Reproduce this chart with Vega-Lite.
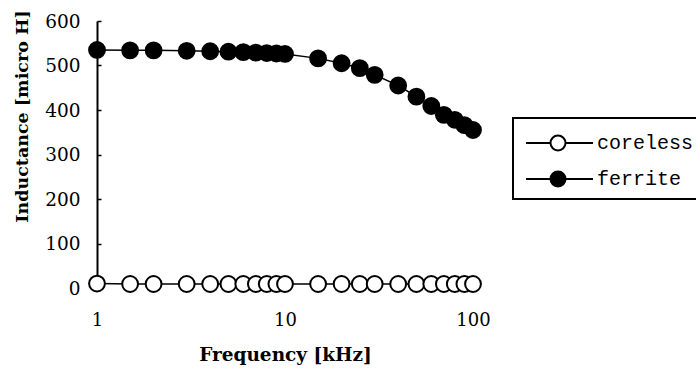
{
  "$schema": "https://vega.github.io/schema/vega-lite/v6.json",
  "autosize": {"type": "none"},
  "padding": {"left": 97, "top": 21, "right": 223, "bottom": 84},
  "width": 376,
  "height": 267,
  "background": "white",
  "data": {
    "values": [
      {"f": 1, "L": 10, "series": "coreless"},
      {"f": 1.5, "L": 9, "series": "coreless"},
      {"f": 2, "L": 9, "series": "coreless"},
      {"f": 3, "L": 9, "series": "coreless"},
      {"f": 4, "L": 9, "series": "coreless"},
      {"f": 5, "L": 9, "series": "coreless"},
      {"f": 6, "L": 9, "series": "coreless"},
      {"f": 7, "L": 9, "series": "coreless"},
      {"f": 8, "L": 9, "series": "coreless"},
      {"f": 9, "L": 9, "series": "coreless"},
      {"f": 10, "L": 9, "series": "coreless"},
      {"f": 15, "L": 9, "series": "coreless"},
      {"f": 20, "L": 9, "series": "coreless"},
      {"f": 25, "L": 9, "series": "coreless"},
      {"f": 30, "L": 9, "series": "coreless"},
      {"f": 40, "L": 9, "series": "coreless"},
      {"f": 50, "L": 9, "series": "coreless"},
      {"f": 60, "L": 9, "series": "coreless"},
      {"f": 70, "L": 9, "series": "coreless"},
      {"f": 80, "L": 9, "series": "coreless"},
      {"f": 90, "L": 9, "series": "coreless"},
      {"f": 100, "L": 9, "series": "coreless"},
      {"f": 1, "L": 535, "series": "ferrite"},
      {"f": 1.5, "L": 534, "series": "ferrite"},
      {"f": 2, "L": 534, "series": "ferrite"},
      {"f": 3, "L": 533, "series": "ferrite"},
      {"f": 4, "L": 532, "series": "ferrite"},
      {"f": 5, "L": 531, "series": "ferrite"},
      {"f": 6, "L": 530, "series": "ferrite"},
      {"f": 7, "L": 529, "series": "ferrite"},
      {"f": 8, "L": 528, "series": "ferrite"},
      {"f": 9, "L": 527, "series": "ferrite"},
      {"f": 10, "L": 526, "series": "ferrite"},
      {"f": 15, "L": 516, "series": "ferrite"},
      {"f": 20, "L": 505, "series": "ferrite"},
      {"f": 25, "L": 494, "series": "ferrite"},
      {"f": 30, "L": 479, "series": "ferrite"},
      {"f": 40, "L": 455, "series": "ferrite"},
      {"f": 50, "L": 430, "series": "ferrite"},
      {"f": 60, "L": 409, "series": "ferrite"},
      {"f": 70, "L": 389, "series": "ferrite"},
      {"f": 80, "L": 378, "series": "ferrite"},
      {"f": 90, "L": 366, "series": "ferrite"},
      {"f": 100, "L": 355, "series": "ferrite"}
    ]
  },
  "encoding": {
    "x": {
      "field": "f", "type": "quantitative",
      "scale": {"type": "log", "domain": [1, 100], "nice": false},
      "axis": {
        "title": "Frequency [kHz]", "values": [1, 10, 100], "format": "d",
        "domain": false, "ticks": false, "grid": false,
        "labelFont": "DejaVu Serif", "labelFontSize": 18, "labelColor": "black",
        "labelPadding": 23, "labelFlush": false,
        "titleFont": "DejaVu Serif", "titleFontSize": 18.5, "titleFontWeight": "bold",
        "titleColor": "black", "titlePadding": 16
      }
    },
    "y": {
      "field": "L", "type": "quantitative",
      "scale": {"domain": [0, 600], "nice": false},
      "axis": {
        "title": "Inductance [micro H]", "values": [0, 100, 200, 300, 400, 500, 600],
        "grid": false, "domainColor": "black", "domainWidth": 2,
        "tickColor": "black", "tickSize": -4, "tickWidth": 1.5,
        "labelFont": "DejaVu Serif", "labelFontSize": 18.5, "labelColor": "black",
        "labelPadding": 21,
        "titleFont": "DejaVu Serif", "titleFontSize": 17.5, "titleFontWeight": "bold",
        "titleColor": "black", "titleX": -75, "titleY": 95, "titleAngle": -90,
        "titleAlign": "center", "titleBaseline": "middle"
      }
    }
  },
  "layer": [
    {
      "mark": {"type": "line", "color": "black", "strokeWidth": 1.5},
      "encoding": {"detail": {"field": "series"}}
    },
    {
      "mark": {"type": "point", "shape": "circle", "size": 250, "stroke": "black", "strokeWidth": 2, "opacity": 1, "filled": false},
      "encoding": {
        "fill": {
          "field": "series", "type": "nominal",
          "scale": {"domain": ["coreless", "ferrite"], "range": ["white", "black"]},
          "legend": {
            "title": null, "orient": "none", "legendX": 416, "legendY": 97,
            "strokeColor": "black", "padding": 8,
            "fillColor": "white",
            "symbolType": "M-0.667,0.333H1.375M2.625,0.333H4.92M1.375,0.333A0.625,0.625 0 1,0 2.625,0.333A0.625,0.625 0 1,0 1.375,0.333Z",
            "symbolSize": 576, "symbolStrokeColor": "black", "symbolStrokeWidth": 2,
            "symbolOpacity": 1,
            "labelFont": "Liberation Mono", "labelFontSize": 20, "labelColor": "black",
            "labelOffset": 50, "rowPadding": 7, "labelLimit": 300,
            "encode": {
              "legend": {"update": {"strokeWidth": {"value": 2}}},
              "labels": {"update": {"dy": {"value": 4}}}
            }
          }
        }
      }
    }
  ],
  "config": {"view": {"stroke": null}}
}
